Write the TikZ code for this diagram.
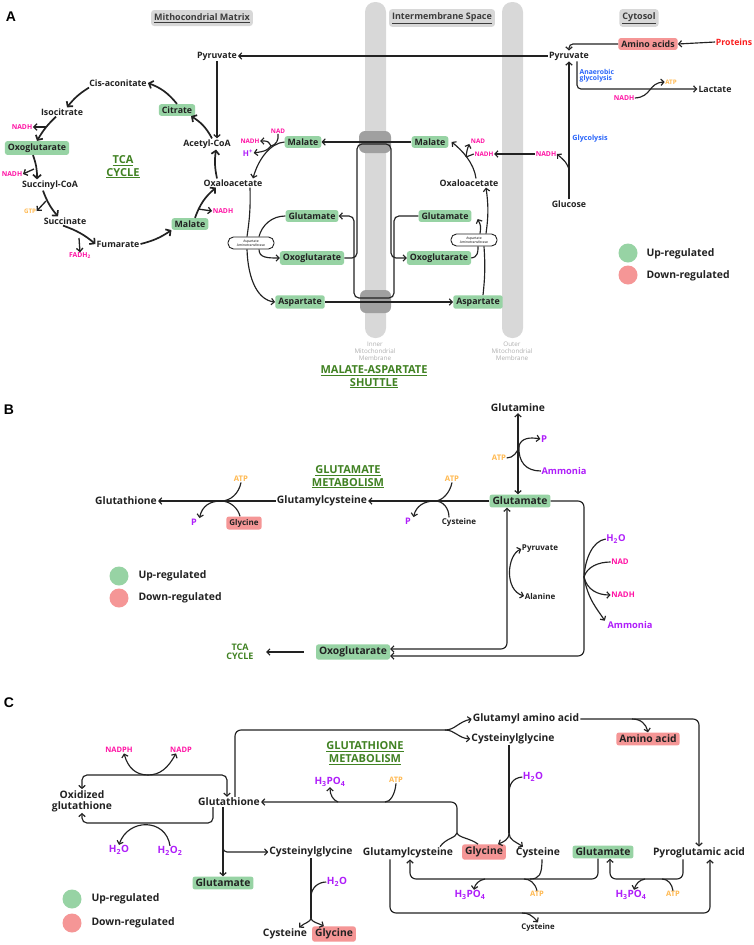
\documentclass[tikz,border=0pt]{standalone}
\usepackage{fontspec}
\setmainfont{Open Sans}
\newfontfamily\panelfont{Liberation Sans}
\usetikzlibrary{positioning, calc, arrows.meta}

\definecolor{ink}{RGB}{34,34,34}
\definecolor{upgreen}{RGB}{151,211,164}
\definecolor{downred}{RGB}{245,150,150}
\definecolor{nadpink}{RGB}{255,20,165}
\definecolor{molpurple}{RGB}{175,30,250}
\definecolor{atporange}{RGB}{255,185,80}
\definecolor{pathblue}{RGB}{40,100,250}
\definecolor{ttlgreen}{RGB}{65,130,35}
\definecolor{protred}{RGB}{250,30,30}
\definecolor{membgray}{RGB}{216,216,216}
\definecolor{membdark}{RGB}{160,160,160}
\definecolor{membtxt}{RGB}{175,175,175}
\definecolor{hdrtxt}{RGB}{60,60,60}

\tikzset{
  lblA/.style={font=\bfseries\fontsize{8.8}{10}\selectfont, text=ink, inner sep=1pt},
  lblB/.style={font=\bfseries\fontsize{10.3}{12}\selectfont, text=ink, inner sep=1pt},
  upbox/.style={fill=upgreen, rounded corners=2.5pt, inner xsep=3pt, inner ysep=2.5pt},
  downbox/.style={fill=downred, rounded corners=2.5pt, inner xsep=3pt, inner ysep=2.5pt},
  cof/.style={font=\bfseries\fontsize{#1}{#1}\selectfont, inner sep=0.5pt},
  nadh/.style={cof=#1, text=nadpink},
  atp/.style={cof=#1, text=atporange},
  mol/.style={cof=#1, text=molpurple},
  blk/.style={cof=#1, text=ink},
  arr/.style={->, line width=1.15pt, draw=ink},
  biarr/.style={<->, line width=1.15pt, draw=ink},
  ln/.style={line width=1.15pt, draw=ink},
  tca/.style={line width=1.7pt, draw=ink, -{Straight Barb[length=3.6pt,width=8pt]}},
  tcab/.style={line width=1.3pt, draw=ink, -{Straight Barb[length=3.2pt,width=6.5pt]}},
  aat/.style={draw=ink, fill=white, line width=0.9pt, rounded corners=5.5pt,
    minimum width=46pt, minimum height=12pt, inner sep=0.3pt, align=center,
    font=\fontsize{3.4}{3.8}\selectfont},
  hdr/.style={fill=membgray, rounded corners=3pt, minimum height=16pt, inner xsep=3pt,
    font=\bfseries\fontsize{9}{10}\selectfont, text=hdrtxt},
  membl/.style={align=center, text=membtxt, font=\fontsize{6.3}{7.2}\selectfont},
  ttl/.style={align=center, text=ttlgreen, font=\bfseries\fontsize{11}{12.5}\selectfont},
  panel/.style={font=\panelfont\bfseries\fontsize{14}{14}\selectfont},
  leg/.style={font=\bfseries\fontsize{10.4}{12}\selectfont, text=ink, anchor=west},
  dotup/.style={fill=upgreen, circle, minimum size=19pt, inner sep=0pt},
  dotdown/.style={fill=downred, circle, minimum size=19pt, inner sep=0pt}
}

\begin{document}
\begin{tikzpicture}[x=1pt, y=-1pt, >={Straight Barb[length=3pt,width=6.4pt]}]
  % Canvas
  \fill[white] (0,0) rectangle (753,945);
  \useasboundingbox (0,0) rectangle (753,945);

  %% ================= Panel A =================
  \node[panel] (labA) at (11,17) {A};

  % Membranes
  \fill[membgray, rounded corners=10pt] (365,2) rectangle (386,338);
  \fill[membgray, rounded corners=10pt] (502,2) rectangle (523,338);
  \fill[membdark, rounded corners=6pt] (359,131) rectangle (391,153);
  \fill[membdark, rounded corners=6pt] (360,290) rectangle (391,313);
  \node[membl] (innerM) at (375,351) {Inner\\Mitochondrial\\Membrane};
  \node[membl] (outerM) at (512,351) {Outer\\Mitochondrial\\Membrane};

  % Compartments
  \node[hdr] (hMat) at (202,18) {\underline{Mithocondrial Matrix}};
  \node[hdr] (hIms) at (442,18) {\underline{Intermembrane Space}};
  \node[hdr] (hCyt) at (639,18) {\underline{Cytosol}};

  % TCA cycle
  \node[lblA] (pyrM) at (217,56) {Pyruvate};
  \node[lblA] (acoa) at (207,144) {Acetyl-CoA};
  \node[lblA, upbox] (cit) at (177,110) {Citrate};
  \node[lblA] (cisa) at (118,83) {Cis-aconitate};
  \node[lblA] (iso) at (62,112) {Isocitrate};
  \node[nadh=6.8] (nadh1) at (22,127) {NADH};
  \node[lblA, upbox] (oxoA) at (37,148) {Oxoglutarate};
  \node[nadh=6.8] (nadh2) at (12,174) {NADH};
  \node[lblA] (succoa) at (50,185) {Succinyl-CoA};
  \node[atp=6.2] (gtp) at (30,211) {GTP};
  \node[lblA] (succ) at (65,221) {Succinate};
  \node[nadh=6.8] (fadh) at (80,256) {FADH\textsubscript{2}};
  \node[lblA] (fum) at (118,244) {Fumarate};
  \node[lblA, upbox] (malA) at (190,224) {Malate};
  \node[nadh=6.8] (nadh3) at (223,211) {NADH};
  \node[lblA] (oaaM) at (233,183) {Oxaloacetate};
  \node[ttl] (tcaA) at (123,167) {\underline{TCA}\\\underline{CYCLE}};

  \coordinate (j1) at (46,127);
  \coordinate (j2) at (34,169);
  \coordinate (j3) at (46,201);
  \coordinate (j4) at (79,238);
  \coordinate (j5) at (198,209);
  \draw[tca] ([xshift=5pt]acoa.north) to[bend right=15] ([xshift=14pt]cit.south);
  \draw[tca] (cit.north) to[bend right=15] (cisa.east);
  \draw[tca] ([xshift=-29pt]cisa.south) to[bend right=10] ([xshift=5pt]iso.north);
  \draw[tca] ([xshift=-6pt]iso.south) to[bend right=8] (oxoA.north);
  \draw[tcab] (j1) -- (nadh1.east);
  \draw[tca] ([xshift=-4pt]oxoA.south) to[bend left=10] ([xshift=-13pt]succoa.north);
  \draw[tcab] (j2) -- (nadh2.east);
  \draw[tca] ([xshift=-7pt]succoa.south) to[bend right=10] ([xshift=-7pt]succ.north);
  \draw[tcab] (j3) -- (gtp.east);
  \draw[tca] ([xshift=-2pt]succ.south) to[bend left=10] (fum.west);
  \draw[tcab] (j4) -- (fadh.north);
  \draw[tca] (fum.east) to[bend right=10] (malA.south west);
  \draw[tca] ([xshift=5pt]malA.north) to[bend left=15] ([xshift=-17pt]oaaM.south);
  \draw[tcab] (j5) -- (nadh3.west);
  \draw[tca] ([xshift=-16pt]oaaM.north) to[bend left=10] ([xshift=9pt]acoa.south);
  \draw[arr] (pyrM.south) -- (pyrM.south |- acoa.north);

  % Malate-aspartate shuttle, matrix side
  \node[lblA, upbox] (malM) at (303,142) {Malate};
  \node[nadh=6.3] (nadM) at (278,131) {NAD};
  \node[nadh=6.3] (nadhM) at (250,141) {NADH};
  \node[mol=8] (hM) at (248,153) {H\textsuperscript{+}};
  \node[aat] (aatM) at (251,243) {Aspartate\\Aminotransferase};
  \node[lblA, upbox] (gluM) at (312,216) {Glutamate};
  \node[lblA, upbox] (oxoM) at (312,258) {Oxoglutarate};
  \node[lblA, upbox] (aspM) at (300,302) {Aspartate};

  \coordinate (jM) at (271,146);
  \draw[arr] (malM.west) .. controls (270,143) and (258,160) .. ([xshift=20pt]oaaM.north);
  \draw[ln] (nadM.south) .. controls (279,140) and (276,145) .. (jM);
  \draw[arr] (jM) .. controls (268,141) .. (nadhM.east);
  \draw[arr] (jM) .. controls (266,151) .. (hM.east);
  \draw[ln] ([xshift=17pt]oaaM.south) to[bend left=5] ([xshift=-4pt]aatM.north);
  \draw[arr] ([xshift=-4pt]aatM.south) .. controls (248,280) and (258,300) .. (aspM.west);
  \draw[ln] (gluM.west) .. controls (272,216) and (262,225) .. ([xshift=8pt]aatM.north);
  \draw[arr] ([xshift=8pt]aatM.south) .. controls (259,258) and (268,258) .. (oxoM.west);

  % Malate-aspartate shuttle, intermembrane side
  \node[lblA, upbox] (malI) at (430,142) {Malate};
  \node[nadh=6.3] (nadI) at (478,141) {NAD};
  \node[nadh=6.3] (nadhI) at (484,154) {NADH};
  \node[lblA] (oaaI) at (469,183) {Oxaloacetate};
  \node[lblA, upbox] (gluI) at (445,216) {Glutamate};
  \node[lblA, upbox] (oxoI) at (439,258) {Oxoglutarate};
  \node[aat] (aatI) at (474,240) {Aspartate\\Aminotransferase};
  \node[lblA, upbox] (aspI) at (478,302) {Aspartate};

  \draw[arr] (malI.west) -- (malM.east);
  \draw[arr, rounded corners=5pt] (oxoM.east) -- (357,258) -- (357,144) -- (391,144) -- (391,258) -- (oxoI.west);
  \draw[arr, rounded corners=5pt] (gluI.west) -- (394,216) -- (394,298) -- (354,298) -- (354,216) -- (gluM.east);
  \draw[arr] (aspM.east) -- (aspI.west);
  \draw[ln] ([xshift=5pt]aspI.north) to[bend right=5] ([xshift=10pt]aatI.south);
  \draw[ln] (oxoI.east) .. controls (478,257) and (478,252) .. ([xshift=4pt]aatI.south);
  \draw[arr] ([xshift=12pt]aatI.north) to[bend right=8] ([xshift=17pt]oaaI.south);
  \draw[arr] ([xshift=6pt]aatI.north) .. controls (481,226) .. ([xshift=6pt,yshift=-3pt]gluI.east);
  \coordinate (jI) at (466,157);
  \draw[arr] ([xshift=7pt]oaaI.north) .. controls (474,163) and (462,150) .. ([xshift=3pt]malI.east);
  \draw[ln] (nadhI.west) .. controls (470,155) .. (jI);
  \draw[arr] (jI) .. controls (467,150) .. ([xshift=-1pt]nadI.south west);

  % Cytosol
  \node[lblA] (pyrC) at (569,56) {Pyruvate};
  \node[lblA, downbox] (amino) at (648,44) {Amino acids};
  \node[cof=8.7, text=protred] (prot) at (734,42) {Proteins};
  \node[cof=6.8, text=pathblue, align=left, anchor=west] (anaer) at (579,76) {Anaerobic\\[-1pt]glycolysis};
  \node[lblA] (lact) at (715,89) {Lactate};
  \node[nadh=6.8] (nadhC2) at (624,98) {NADH};
  \node[atp=6.2] (atpC) at (671,82) {ATP};
  \node[cof=7.2, text=pathblue] (glyc) at (590,139) {Glycolysis};
  \node[nadh=6.8] (nadhC) at (546,154) {NADH};
  \node[lblA] (gluc) at (569,204) {Glucose};

  \draw[arr] (pyrC.west) -- (pyrM.east);
  \draw[arr] (prot.west) -- (amino.east);
  \draw[arr, rounded corners=4pt] (amino.west) -| (pyrC.north);
  \draw[arr] (gluc.north) -- (pyrC.south);
  \coordinate (jG) at (569,169);
  \draw[arr] (jG) .. controls (566,162) .. (nadhC.east);
  \draw[arr] (nadhC.west) -- (nadhI.east);
  \draw[arr, rounded corners=4pt] ([xshift=8pt]pyrC.south) |- (lact.west);
  \draw[arr] (nadhC2.east) .. controls (652,97) and (648,83) .. (atpC.west);

  % Legend A
  \node[dotup] (upA) at (628,253) {};
  \node[dotdown] (downA) at (628,275) {};
  \node[leg] (upAt) at (643,254) {Up-regulated};
  \node[leg] (downAt) at (643,276) {Down-regulated};

  \node[ttl] (shut) at (374,377) {\underline{MALATE-ASPARTATE}\\\underline{SHUTTLE}};

  %% ================= Panel B =================
  \node[panel] (labB) at (9,410) {B};
  \node[lblB] (gshB) at (126,501) {Glutathione};
  \node[lblB] (gcB) at (322,501) {Glutamylcysteine};
  \node[lblB, upbox] (gluB) at (520,501) {Glutamate};
  \node[lblB] (glnB) at (518,408) {Glutamine};
  \node[ttl] (ttlB) at (348,477) {\underline{GLUTAMATE}\\\underline{METABOLISM}};
  \node[atp=7.7] (atpB1) at (241,479) {ATP};
  \node[mol=9] (pB1) at (194,522) {P};
  \node[cof=8, text=ink, downbox] (glyB) at (244,523) {Glycine};
  \node[atp=7.7] (atpB2) at (452,479) {ATP};
  \node[mol=9] (pB2) at (408,521) {P};
  \node[blk=8] (cysB) at (459,522) {Cysteine};
  \node[atp=7.7] (atpB3) at (499,458) {ATP};
  \node[mol=9.5] (pB3) at (544,439) {P};
  \node[mol=9.3] (ammB1) at (564,471) {Ammonia};
  \node[blk=8] (pyrB) at (540,549) {Pyruvate};
  \node[blk=8] (alaB) at (540,596) {Alanine};
  \node[mol=9.5] (h2oB) at (616,539) {H\textsubscript{2}O};
  \node[nadh=7.8] (nadB) at (620,562) {NAD};
  \node[nadh=7.8] (nadhB) at (623,595) {NADH};
  \node[mol=9.3] (ammB2) at (630,625) {Ammonia};
  \node[lblB, upbox] (oxoB) at (353,652) {Oxoglutarate};
  \node[cof=9, text=ttlgreen, align=center] (tcaB) at (240,652) {TCA\\CYCLE};

  \draw[arr] (gcB.west) -- (gshB.east);
  \draw[arr] (gluB.west) -- (gcB.east);
  \coordinate (jB1) at (221,501);
  \draw[ln] (atpB1.south) .. controls (239,493) and (231,501) .. (jB1);
  \draw[arr] (jB1) .. controls (210,501) and (202,506) .. ([xshift=2pt]pB1.north east);
  \draw[ln] ([xshift=-4pt]glyB.north) .. controls (238,508) and (230,501) .. (jB1);
  \coordinate (jB2) at (435,501);
  \draw[ln] (atpB2.south) .. controls (450,493) and (442,501) .. (jB2);
  \draw[arr] (jB2) .. controls (424,501) and (416,506) .. ([xshift=2pt]pB2.north east);
  \draw[ln] ([xshift=-10pt]cysB.north) .. controls (449,508) and (443,501) .. (jB2);
  \draw[biarr] (glnB.south) -- (glnB.south |- gluB.north);
  \coordinate (jB3) at (519,446);
  \draw[ln] (atpB3.east) .. controls (513,458) and (518,452) .. (jB3);
  \draw[arr] (jB3) .. controls (521,438) and (530,437) .. (pB3.west);
  \draw[ln] (ammB1.west) .. controls (526,471) and (518,462) .. (jB3);
  \draw[arr, rounded corners=6pt] (gluB.east) -| (584,600) |- ([yshift=-4pt]oxoB.east);
  \draw[biarr, rounded corners=6pt] ([xshift=-13pt]gluB.south) |- ([yshift=3pt]oxoB.east);
  \draw[biarr] (pyrB.west) .. controls (507,555) and (504,590) .. (alaB.west);
  \coordinate (jB4) at (584,577);
  \draw[ln] (h2oB.west) .. controls (592,541) and (585,560) .. (jB4);
  \draw[ln] (nadB.west) .. controls (598,562) and (587,567) .. (jB4);
  \draw[arr] (jB4) .. controls (587,590) and (598,595) .. (nadhB.west);
  \draw[arr] (jB4) .. controls (588,600) and (598,610) .. ([xshift=-2pt]ammB2.north west);
  \draw[arr, shorten <=12pt, shorten >=12pt] (oxoB.west) -- (tcaB.east);

  % Legend B
  \node[dotup] (upB) at (119,576) {};
  \node[dotdown] (downB) at (119,598) {};
  \node[leg] (upBt) at (135,576) {Up-regulated};
  \node[leg] (downBt) at (135,598) {Down-regulated};

  %% ================= Panel C =================
  \node[panel] (labC) at (9,703) {C};
  \node[lblB] (gshC) at (229,802) {Glutathione};
  \node[lblB, align=center] (oxgC) at (82,801) {Oxidized\\[-1pt]glutathione};
  \node[nadh=7.5] (nadphC) at (119,750) {NADPH};
  \node[nadh=7.5] (nadpC) at (181,750) {NADP};
  \node[mol=10] (h2oC1) at (119,850) {H\textsubscript{2}O};
  \node[mol=10] (h2o2C) at (170,851) {H\textsubscript{2}O\textsubscript{2}};
  \node[lblB, upbox] (gluC1) at (223,883) {Glutamate};
  \node[lblB] (cgC1) at (311,852) {Cysteinylglycine};
  \node[mol=10] (h2oC2) at (337,882) {H\textsubscript{2}O};
  \node[lblB] (cysC1) at (285,934) {Cysteine};
  \node[lblB, downbox] (glyC1) at (334,934) {Glycine};
  \node[ttl] (ttlC) at (365,753) {\underline{GLUTATHIONE}\\\underline{METABOLISM}};
  \node[mol=10] (h3C1) at (330,782) {H\textsubscript{3}PO\textsubscript{4}};
  \node[atp=7.5] (atpC1) at (396,780) {ATP};
  \node[lblB] (gaaC) at (526,719) {Glutamyl amino acid};
  \node[lblB] (cgC2) at (513,739) {Cysteinylglycine};
  \node[lblB, downbox] (aaC) at (648,739) {Amino acid};
  \node[lblB] (pyrgC) at (699,853) {Pyroglutamic acid};
  \node[lblB] (gcC) at (408,853) {Glutamylcysteine};
  \node[lblB, downbox] (glyC2) at (484,852) {Glycine};
  \node[lblB] (cysC2) at (538,853) {Cysteine};
  \node[lblB, upbox] (gluC2) at (603,852) {Glutamate};
  \node[mol=10] (h2oC3) at (533,777) {H\textsubscript{2}O};
  \node[mol=10] (h3C2) at (470,895) {H\textsubscript{3}PO\textsubscript{4}};
  \node[atp=7.5] (atpC2) at (537,894) {ATP};
  \node[mol=10] (h3C3) at (631,895) {H\textsubscript{3}PO\textsubscript{4}};
  \node[atp=7.5] (atpC3) at (673,894) {ATP};
  \node[blk=7.8] (cysC3) at (538,927) {Cysteine};

  % redox loop
  \coordinate (topL) at (148,775);
  \coordinate (botL) at (148,823);
  \draw[biarr, rounded corners=5pt] (oxgC.north) |- (topL) -| ([xshift=-2pt]gshC.north);
  \draw[arr] (topL) .. controls (136,775) and (128,768) .. ([xshift=5pt]nadphC.south);
  \draw[arr] (topL) .. controls (160,775) and (168,768) .. ([xshift=-5pt]nadpC.south);
  \draw[arr, rounded corners=5pt] ([xshift=-16pt]gshC.south) |- (botL) -| (oxgC.south);
  \draw[arr] (h2o2C.north) .. controls (166,818) and (128,818) .. (h2oC1.north);

  % breakdown of glutathione
  \coordinate (jC1) at (445,730);
  \draw[ln, rounded corners=6pt] ([xshift=6pt]gshC.north) |- (jC1);
  \draw[arr] (jC1) .. controls (455,730) and (458,722) .. (gaaC.west);
  \draw[arr] (jC1) .. controls (455,730) and (458,738) .. (cgC2.west);
  \draw[arr] ([xshift=-6pt]gshC.south) -- (gluC1.north);
  \coordinate (jC2) at (223,838);
  \draw[arr, rounded corners=4pt] (jC2) |- (cgC1.west);
  \coordinate (jC3) at (311,918);
  \draw[ln] (cgC1.south) -- (jC3);
  \draw[arr] (jC3) .. controls (311,922) and (304,923) .. ([xshift=-9pt]cysC1.north east);
  \draw[arr] (jC3) .. controls (311,922) and (318,923) .. ([xshift=12pt]glyC1.north west);
  \coordinate (jC4) at (311,897);
  \draw[ln] (h2oC2.west) .. controls (318,882) and (311,888) .. (jC4);

  % glutathione synthesis
  \coordinate (jC5) at (457,833);
  \draw[arr, rounded corners=6pt] (jC5) |- (gshC.east);
  \draw[ln] ([xshift=32pt]gcC.north) .. controls (446,838) and (456,838) .. (jC5);
  \draw[ln] ([xshift=-6pt]glyC2.north) .. controls (470,838) and (459,838) .. (jC5);
  \coordinate (jC6) at (338,802);
  \draw[arr] (jC6) .. controls (333,800) and (330,795) .. (h3C1.south);
  \coordinate (jC7) at (385,802);
  \draw[ln] (atpC1.south) .. controls (395,795) and (390,802) .. (jC7);

  % cysteinylglycine hydrolysis
  \coordinate (jC8) at (509,833);
  \draw[ln] ([xshift=-4pt]cgC2.south) -- (jC8);
  \draw[arr] (jC8) .. controls (509,840) and (503,842) .. ([xshift=14pt]glyC2.north);
  \draw[arr] (jC8) .. controls (509,840) and (516,842) .. ([xshift=-15pt]cysC2.north);
  \coordinate (jC9) at (509,794);
  \draw[ln] (h2oC3.west) .. controls (512,778) and (509,785) .. (jC9);

  % gamma-glutamyl cycle
  \coordinate (jC10) at (500,879);
  \draw[arr, rounded corners=6pt] ([xshift=-5pt]gluC2.south) |- (jC10) -| ([xshift=2pt]gcC.south);
  \coordinate (jC11) at (530,879);
  \draw[ln] ([xshift=4pt]cysC2.south) .. controls (542,875) and (539,879) .. (jC11);
  \coordinate (jC12) at (485,879);
  \draw[arr] (jC12) .. controls (479,880) and (475,884) .. ([xshift=4pt]h3C2.north);
  \coordinate (jC13) at (524,879);
  \draw[ln] (atpC2.north) .. controls (535,883) and (530,879) .. (jC13);
  \coordinate (jC14) at (645,879);
  \draw[arr, rounded corners=6pt] ([xshift=-16pt]pyrgC.south) |- (jC14) -| ([xshift=7pt]gluC2.south);
  \draw[arr] (jC14) .. controls (639,880) and (636,884) .. ([xshift=3pt]h3C3.north);
  \coordinate (jC15) at (662,879);
  \draw[ln] (atpC3.north) .. controls (672,884) and (668,879) .. (jC15);
  \coordinate (jC16) at (560,913);
  \draw[arr, rounded corners=6pt] ([xshift=-18pt]gcC.south) |- (jC16) -| ([xshift=11pt]pyrgC.south);
  \coordinate (jC17) at (522,913);
  \draw[arr] (jC17) .. controls (528,913) and (532,915) .. (cysC3.north);
  \coordinate (jC18) at (632,719);
  \draw[arr, rounded corners=6pt] (gaaC.east) -| (pyrgC.north);
  \draw[arr] (jC18) .. controls (641,719) and (646,724) .. (aaC.north);

  % Legend C
  \node[dotup] (upC) at (72,899) {};
  \node[dotdown] (downC) at (72,923) {};
  \node[leg] (upCt) at (88,899) {Up-regulated};
  \node[leg] (downCt) at (88,923) {Down-regulated};
\end{tikzpicture}
\end{document}
